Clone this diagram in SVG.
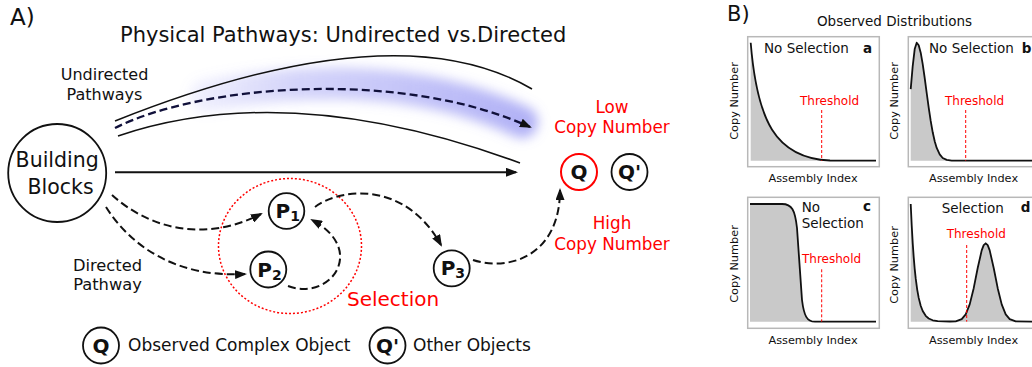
<svg xmlns="http://www.w3.org/2000/svg" width="1032" height="367" viewBox="0 0 1032 367">
<style>
text{font-family:"DejaVu Sans","Liberation Sans",sans-serif;fill:#111}
.red{fill:#f00}
.b{font-weight:bold}
.node{fill:none;stroke:#111;stroke-width:1.8}
.dash{fill:none;stroke:#111;stroke-width:2;stroke-dasharray:8 4}
.solid{fill:none;stroke:#111;stroke-width:1.5}
.box{fill:none;stroke:#b8b8b8;stroke-width:1.5}
.area{fill:#c9c9c9;stroke:none}
.curve{fill:none;stroke:#111;stroke-width:1.8;stroke-linejoin:round}
.thr{stroke:#f00;stroke-width:1;stroke-dasharray:3 2}
.ax{font-size:11.3px}
.pt{font-size:13.5px}
.th{font-size:12px;fill:#f00}
</style>
<defs>
<marker id="ah" viewBox="0 0 12 9" refX="10" refY="4.5" markerWidth="12" markerHeight="9" markerUnits="userSpaceOnUse" orient="auto"><path d="M0,0 L12,4.5 L0,9 z" fill="#111"/></marker>
<linearGradient id="glowg" gradientUnits="userSpaceOnUse" x1="190" y1="0" x2="530" y2="0">
<stop offset="0" stop-color="#9090f2" stop-opacity="0.12"/>
<stop offset="0.3" stop-color="#9090f2" stop-opacity="0.38"/>
<stop offset="1" stop-color="#8080f0" stop-opacity="0.62"/>
</linearGradient>
<filter id="blur" filterUnits="userSpaceOnUse" x="100" y="20" width="480" height="160"><feGaussianBlur stdDeviation="6"/></filter>
</defs>
<rect width="1032" height="367" fill="#fff"/>

<g id="panel-a-labels">
<text x="10" y="25" font-size="23">A)</text>
<text x="120" y="42" font-size="21">Physical Pathways: Undirected vs.Directed</text>
<text x="104.5" y="80" font-size="16" text-anchor="middle">Undirected</text>
<text x="104.5" y="100" font-size="16" text-anchor="middle">Pathways</text>
<text x="107.5" y="270.7" font-size="16.3" text-anchor="middle">Directed</text>
<text x="107.5" y="290" font-size="16.3" text-anchor="middle">Pathway</text>
<text class="red" x="612" y="113" font-size="16.8" text-anchor="middle">Low</text>
<text class="red" x="612" y="133" font-size="16.8" text-anchor="middle">Copy Number</text>
<text class="red" x="612" y="229" font-size="16.8" text-anchor="middle">High</text>
<text class="red" x="612" y="250" font-size="16.8" text-anchor="middle">Copy Number</text>
</g>

<path d="M205,96 C300,78 420,74 522,122" fill="none" stroke="url(#glowg)" stroke-width="32" stroke-linecap="round" filter="url(#blur)"/>

<g id="selection">
<ellipse cx="290" cy="246" rx="71.5" ry="67.5" fill="none" stroke="#f00" stroke-width="1.5" stroke-dasharray="2 2"/>
<text class="red" x="347" y="306" font-size="20">Selection</text>
</g>

<g id="node-building-blocks">
<circle class="node" cx="57.2" cy="173" r="49"/>
<text x="57.2" y="167" font-size="20.5" text-anchor="middle">Building</text>
<text x="60.5" y="194" font-size="20.5" text-anchor="middle">Blocks</text>
</g>

<g id="node-p1">
<circle class="node" cx="286.5" cy="211" r="17.8"/>
<text class="b" x="275.5" y="217.5" font-size="20">P<tspan font-size="14" dy="3">1</tspan></text>
</g>
<g id="node-p2">
<circle class="node" cx="268.3" cy="269.5" r="18"/>
<text class="b" x="257.3" y="276.5" font-size="20">P<tspan font-size="14" dy="3">2</tspan></text>
</g>
<g id="node-p3">
<circle class="node" cx="451.7" cy="268.3" r="18"/>
<text class="b" x="440.7" y="275.3" font-size="20">P<tspan font-size="14" dy="3">3</tspan></text>
</g>
<g id="node-q">
<circle cx="579" cy="172" r="18" fill="none" stroke="#f00" stroke-width="2"/>
<text class="b" x="579" y="179" font-size="20" text-anchor="middle">Q</text>
</g>
<g id="node-qprime">
<circle class="node" cx="629.5" cy="172" r="18"/>
<text class="b" x="629.5" y="179" font-size="20" text-anchor="middle">Q'</text>
</g>

<g id="connectors">
<path class="solid" d="M115,121 Q396,9 532,89"/>
<path class="solid" d="M118,136 Q290,78 520,163"/>
<path d="M115,128 C200,85 400,68 530,127" fill="none" stroke="#10103a" stroke-width="2.3" stroke-dasharray="8 4" marker-end="url(#ah)"/>
<path d="M115,172.3 L516,172.3" fill="none" stroke="#111" stroke-width="2" marker-end="url(#ah)"/>
<path class="dash" d="M112,195 C145,225 200,245 261,214" marker-end="url(#ah)"/>
<path class="dash" d="M106,207 C130,245 175,278 245,274" marker-end="url(#ah)"/>
<path class="dash" d="M315,207 C340,188 405,180 441,245" marker-end="url(#ah)"/>
<path class="dash" d="M288,286 C330,302 368,250 312,220" marker-end="url(#ah)"/>
<path class="dash" d="M473,260 C510,272 560,255 560,190" marker-end="url(#ah)"/>
</g>

<g id="legend">
<circle class="node" cx="101" cy="345.5" r="18"/>
<text class="b" x="101" y="352.5" font-size="20" text-anchor="middle">Q</text>
<text x="128" y="350.7" font-size="17">Observed Complex Object</text>
<circle class="node" cx="387.5" cy="345.5" r="18"/>
<text class="b" x="387.5" y="352.5" font-size="20" text-anchor="middle">Q'</text>
<text x="413" y="350.7" font-size="17">Other Objects</text>
</g>

<g id="panel-b-header">
<text x="727" y="21" font-size="21">B)</text>
<text x="894.5" y="26" font-size="13.5" text-anchor="middle">Observed Distributions</text>
</g>

<g id="plot-a">
<rect class="box" x="747.7" y="36.7" width="131.6" height="130"/>
<path class="area" d="M750.7,42.7 C757,120 775,158 830,160.5 L876,160.7 L750.7,160.7 Z"/>
<path class="curve" d="M750.7,42.7 C757,120 775,158 830,160.5 L876,160.7"/>
<text class="pt" x="764" y="53">No Selection</text>
<text class="pt b" x="863" y="53">a</text>
<text class="th" x="800" y="105">Threshold</text>
<line class="thr" x1="821.7" y1="110" x2="821.7" y2="160.7"/>
<text class="ax" x="737.5" y="101" text-anchor="middle" transform="rotate(-90 737.5 101)">Copy Number</text>
<text class="ax" x="813" y="182" text-anchor="middle">Assembly Index</text>
</g>

<g id="plot-b">
<rect class="box" x="908.3" y="36.7" width="140" height="130"/>
<path class="area" d="M910.7,89.1 L912.7,66.2 L914.7,49.1 L916.7,42.7 L918.7,45.3 L920.7,52.7 L922.7,64.1 L924.7,78 L926.7,93 L928.7,107.7 L930.7,120.9 L932.7,132.3 L934.7,141.2 L936.7,147.9 L939.7,154.4 L942.7,158 L946.7,159.9 L951.7,160.6 L1040,160.7 L1040,160.7 L910.7,160.7 Z"/>
<path class="curve" d="M910.7,89.1 L912.7,66.2 L914.7,49.1 L916.7,42.7 L918.7,45.3 L920.7,52.7 L922.7,64.1 L924.7,78 L926.7,93 L928.7,107.7 L930.7,120.9 L932.7,132.3 L934.7,141.2 L936.7,147.9 L939.7,154.4 L942.7,158 L946.7,159.9 L951.7,160.6 L1040,160.7"/>
<text class="pt" x="929" y="53">No Selection</text>
<text class="pt b" x="1021.7" y="53">b</text>
<text class="th" x="945" y="105">Threshold</text>
<line class="thr" x1="965.7" y1="110" x2="965.7" y2="160.7"/>
<text class="ax" x="898" y="101" text-anchor="middle" transform="rotate(-90 898 101)">Copy Number</text>
<text class="ax" x="973.5" y="182" text-anchor="middle">Assembly Index</text>
</g>

<g id="plot-c">
<rect class="box" x="747.7" y="197.3" width="131.6" height="131"/>
<path class="area" d="M750,204 L782,204 C792,204 795,210 797,228 L802,300 C804,316 807,321.7 815,321.7 L876,321.7 L750,321.7 Z"/>
<path class="curve" d="M750,204 L782,204 C792,204 795,210 797,228 L802,300 C804,316 807,321.7 815,321.7 L876,321.7"/>
<text class="pt" x="801.7" y="211.7">No</text>
<text class="pt" x="801.7" y="228.3">Selection</text>
<text class="pt b" x="863" y="211">c</text>
<text class="th" x="802" y="263.3">Threshold</text>
<line class="thr" x1="821.7" y1="269.3" x2="821.7" y2="321.7"/>
<text class="ax" x="737.5" y="264" text-anchor="middle" transform="rotate(-90 737.5 264)">Copy Number</text>
<text class="ax" x="813" y="344" text-anchor="middle">Assembly Index</text>
</g>

<g id="plot-d">
<rect class="box" x="908.3" y="197.3" width="140" height="131"/>
<path class="area" d="M910.7,204 L911.7,225.3 L912.7,242.8 L913.7,257.1 L914.7,268.8 L915.7,278.4 L917.2,289.6 L918.7,297.9 L920.7,305.8 L922.7,311 L925.7,315.8 L928.7,318.5 L932.7,320.3 L937.7,321.2 L950,321.5 L955.7,321.3 L961.7,319.1 L965.7,314.3 L969.7,304.4 L973.7,288.2 L977.7,268 L981.7,250.4 L983.7,245.1 L985.7,243.3 L987.7,245.1 L989.7,250.4 L993.7,268 L997.7,288.2 L1001.7,304.4 L1005.7,314.3 L1009.7,319.1 L1015.7,321.3 L1040,321.7 L910.7,321.7 Z"/>
<path class="curve" d="M910.7,204 L911.7,225.3 L912.7,242.8 L913.7,257.1 L914.7,268.8 L915.7,278.4 L917.2,289.6 L918.7,297.9 L920.7,305.8 L922.7,311 L925.7,315.8 L928.7,318.5 L932.7,320.3 L937.7,321.2 L950,321.5 L955.7,321.3 L961.7,319.1 L965.7,314.3 L969.7,304.4 L973.7,288.2 L977.7,268 L981.7,250.4 L983.7,245.1 L985.7,243.3 L987.7,245.1 L989.7,250.4 L993.7,268 L997.7,288.2 L1001.7,304.4 L1005.7,314.3 L1009.7,319.1 L1015.7,321.3 L1040,321.7"/>
<text class="pt" x="941.7" y="212.7">Selection</text>
<text class="pt b" x="1020.7" y="212">d</text>
<text class="th" x="946.7" y="237.7">Threshold</text>
<line class="thr" x1="966.7" y1="245" x2="966.7" y2="321.7"/>
<text class="ax" x="898" y="265" text-anchor="middle" transform="rotate(-90 898 265)">Copy Number</text>
<text class="ax" x="973.5" y="344" text-anchor="middle">Assembly Index</text>
</g>
</svg>
